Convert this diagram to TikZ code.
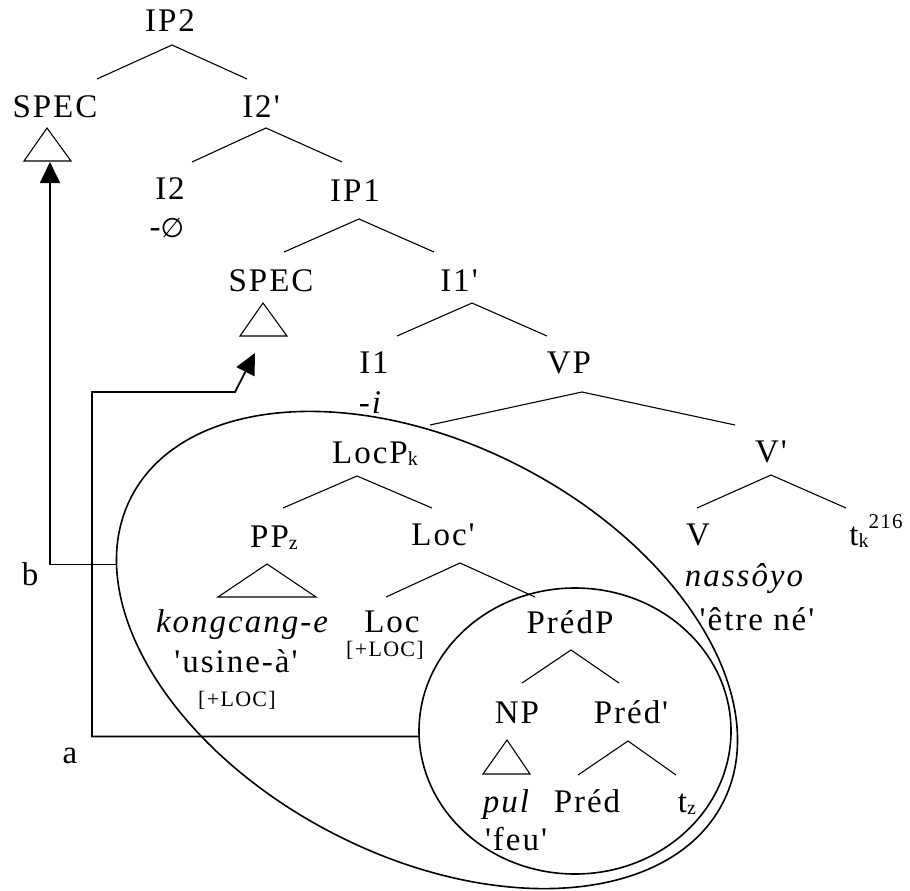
\documentclass[tikz,border=0pt]{standalone}
\usepackage{fontspec}
\setmainfont{Liberation Serif}[LetterSpace=6.0,Ligatures=TeXOff]
\newfontfamily\dvsym{DejaVu Sans}
\usepackage{tikz}
\usetikzlibrary{arrows.meta,shapes.geometric}

\newcommand{\idx}[1]{\raisebox{-0.08em}{\fontsize{20}{20}\selectfont #1}}
\newcommand{\upidx}[1]{\raisebox{0.5em}{\fontsize{21}{21}\selectfont #1}}

\begin{document}
\begin{tikzpicture}[x=1pt, y=-1pt,
lab/.style={font=\fontsize{33}{36}\selectfont, inner sep=0pt, anchor=base},
feat/.style={font=\fontsize{22}{24}\selectfont, inner sep=0pt, anchor=base},
branch/.style={line width=1.1pt},
ring/.style={draw, ellipse, line width=1.6pt, inner sep=0pt, outer sep=0pt},
arrow/.style={-{Triangle[length=21pt,width=20pt]}, line width=1.8pt}
]
\useasboundingbox (0,0) rectangle (910,891);

\node[lab] (ip2) at (170,32) {IP2};
\node[lab] (spec1) at (55,117) {SPEC};
\node[lab] (i2bar) at (261,117) {I2'};
\node[lab] (i2) at (170,199) {I2};
\node[lab] (i2aff) at (167,237) {-{\dvsym\fontsize{27}{30}\selectfont ∅}};
\node[lab] (ip1) at (355,201) {IP1};
\node[lab] (spec2) at (271,291) {SPEC};
\node[lab] (i1bar) at (459,291) {I1'};
\node[lab] (i1) at (374,373) {I1};
\node[lab] (i1aff) at (371,413) {\textit{-i}};
\node[lab] (vp) at (569,373) {VP};
\node[lab] (locp) at (375,463) {LocP\idx{k}};
\node[lab] (vbar) at (771,462) {V'};
\node[lab] (pp) at (274,547) {PP\idx{z}};
\node[lab] (locbar) at (443,545) {Loc'};
\node[lab] (v) at (698,545) {V};
\node[lab] (tk) at (876,545) {t\idx{k}\upidx{216}};
\node[lab] (kong) at (243,632) {\textit{kongcang-e}};
\node[lab] (loc) at (392,632) {Loc};
\node[feat] (locfeat) at (385,656) {[+LOC]};
\node[lab] (usine) at (236,672) {'usine-à'};
\node[feat] (ppfeat) at (237,706) {[+LOC]};
\node[lab] (nass) at (745,586) {\textit{nassôyo}};
\node[lab] (etre) at (757,630) {'être né'};
\node[lab] (predp) at (570,633) {PrédP};
\node[lab] (np) at (517,723) {NP};
\node[lab] (predbar) at (631,723) {Préd'};
\node[lab] (pul) at (507,812) {\textit{pul}};
\node[lab] (pred) at (587,812) {Préd};
\node[lab] (tz) at (687,812) {t\idx{z}};
\node[lab] (feu) at (516,850) {'feu'};
\node[lab] (labb) at (30,585) {b};
\node[lab] (laba) at (70,763) {a};

\draw[branch] ([shift={(2,13)}]ip2.base) +(-75,34) -- +(0,0) -- +(75,34);
\draw[branch] ([shift={(5,11)}]i2bar.base) +(-74,34) -- +(0,0) -- +(76,34);
\draw[branch] ([shift={(4,18)}]ip1.base) +(-75,33) -- +(0,0) -- +(75,33);
\draw[branch] ([shift={(13,12)}]i1bar.base) +(-75,33) -- +(0,0) -- +(75,33);
\draw[branch] ([shift={(13,19)}]vp.base) +(-152,33) -- +(0,0) -- +(153,33);
\draw[branch] ([shift={(-18,13)}]locp.base) +(-74,32) -- +(0,0) -- +(75,32);
\draw[branch] ([shift={(0,13)}]vbar.base) +(-74,33) -- +(0,0) -- +(75,33);
\draw[branch] ([shift={(17,18)}]locbar.base) +(-74,34) -- +(0,0) -- +(75,34);
\draw[branch] ([shift={(1,17)}]predp.base) +(-49,33) -- +(0,0) -- +(48,33);
\draw[branch] ([shift={(-3,18)}]predbar.base) +(-50,34) -- +(0,0) -- +(48,34);

\draw[branch] ([shift={(-8,11)}]spec1.base) -- +(-23,33) -- +(24,33) -- cycle;
\draw[branch] ([shift={(-8,12)}]spec2.base) -- +(-23,33) -- +(24,33) -- cycle;
\draw[branch] ([shift={(-7,17)}]pp.base) -- +(-49,33) -- +(49,33) -- cycle;
\draw[branch] ([shift={(-10,17)}]np.base) -- +(-24,34) -- +(23,34) -- cycle;

\node[ring, rotate=-27.4, minimum width=666, minimum height=412] (locbox) at (427,650) {};
\node[ring, minimum width=312, minimum height=286] (predbox) at (575,731) {};

\coordinate (tri1) at ([shift={(-5,45)}]spec1.base);
\coordinate (tri2) at ([shift={(-16,62)}]spec2.base);
\draw[arrow] (locbox.192) -| (tri1);
\draw[arrow] (predbox.182) -| ([shift={(-163,39)}]tri2) -- ([shift={(-20,39)}]tri2) -- (tri2);
\end{tikzpicture}
\end{document}
